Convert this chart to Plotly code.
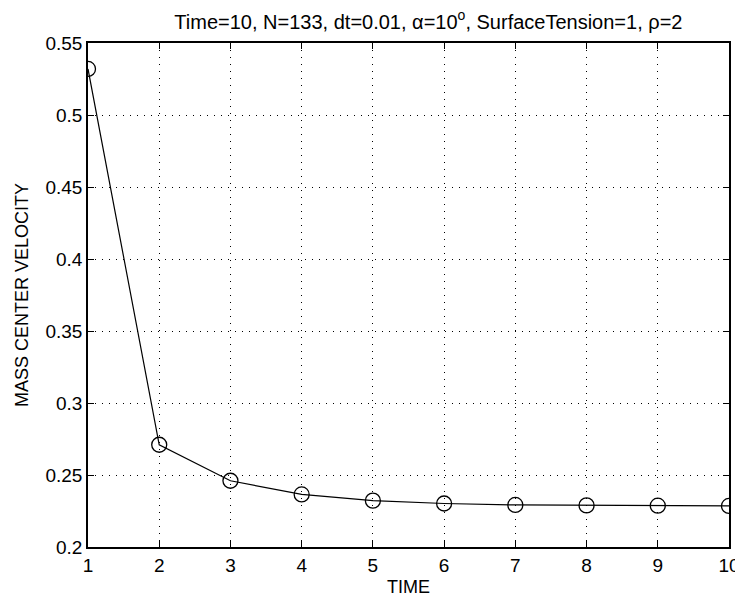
import plotly.graph_objects as go

# mass center velocity at each time step
time = [1, 2, 3, 4, 5, 6, 7, 8, 9, 10]
velocity = [0.532, 0.271, 0.246, 0.2365, 0.2322, 0.2302, 0.2292, 0.2289, 0.2287, 0.2285]

x_ticks = [1, 2, 3, 4, 5, 6, 7, 8, 9, 10]
y_ticks = [0.2, 0.25, 0.3, 0.35, 0.4, 0.45, 0.5, 0.55]
y_labels = ["0.2", "0.25", "0.3", "0.35", "0.4", "0.45", "0.5", "0.55"]

fig = go.Figure()
fig.add_trace(go.Scatter(
    x=time, y=velocity, mode="lines+markers",
    line=dict(color="black", width=1.2),
    marker=dict(symbol="circle-open", size=15, color="black", line=dict(width=1.3)),
    showlegend=False,
))

axis_style = dict(
    showline=True, linecolor="black", linewidth=1.5, mirror="ticks",
    ticks="inside", ticklen=6, tickcolor="black",
    showgrid=True, gridcolor="black", griddash="1px,6px", gridwidth=1,
    zeroline=False, automargin=False,
    tickfont=dict(size=19, color="black"),
)

fig.update_xaxes(range=[1, 10], tickvals=x_ticks,
                 title=dict(text="TIME", font=dict(size=18, color="black"), standoff=6),
                 **axis_style)
fig.update_yaxes(range=[0.2, 0.55], tickvals=y_ticks, ticktext=y_labels,
                 title=dict(text="MASS CENTER VELOCITY", font=dict(size=18, color="black"), standoff=12),
                 **axis_style)

# page body has an 8px margin, so the figure is a bit smaller than the window
fig.update_layout(
    width=735, height=591,
    margin=dict(l=80, r=14, t=35, b=52),
    paper_bgcolor="white", plot_bgcolor="white",
    font=dict(family="Liberation Sans, Arial, sans-serif", color="black"),
    title=dict(text="Time=10, N=133, dt=0.01, \u03b1=10<sup>o</sup>, SurfaceTension=1, \u03c1=2",
               x=0.572, xanchor="center", y=0.977, yanchor="middle",
               font=dict(size=20, color="black")),
)

fig.write_html("out.html")
